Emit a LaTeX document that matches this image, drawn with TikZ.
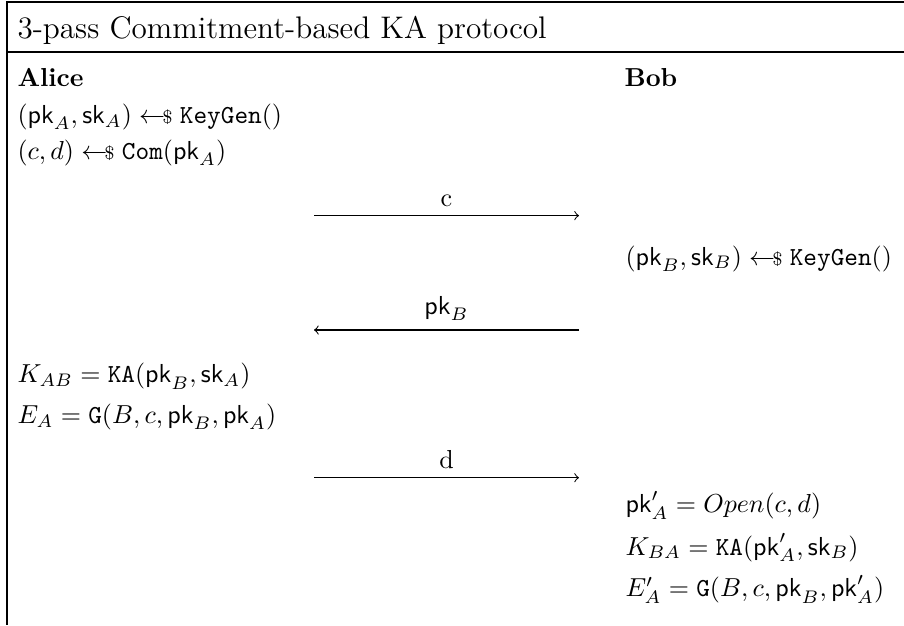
\documentclass[tikz,border=0pt]{standalone}
\usetikzlibrary{positioning}

\newcommand{\sampled}{\mathrel{\leftarrow\mkern-7mu\mbox{\scriptsize\$}}}

\begin{document}
\begin{tikzpicture}[x=0.3846pt,y=-0.3846pt,
  txt/.style={anchor=base west,inner sep=0pt},
  msg/.style={->}]
\useasboundingbox (0,0) rectangle (904,625);
% frame and header
\draw (904,2) -- (7,2) -- (7,625);
\draw (7,52) -- (904,52);
\node[txt,font=\large] (title) at (17,38) {3-pass Commitment-based KA protocol};
% parties
\node[txt,font=\bfseries] (alice) at (17,86.7) {Alice};
\node[txt,font=\bfseries] (bob) at (624,86.7) {Bob};
% Alice: keys and commitment
\node[txt] (keya) at (17,123.3) {$(\mathsf{pk}_A,\mathsf{sk}_A)\sampled\mathtt{KeyGen()}$};
\node[txt] (coma) at (17,159) {$(c,d)\sampled\mathtt{Com(}\mathsf{pk}_A\mathtt{)}$};
% Bob: keys
\node[txt] (keyb) at (625,265) {$(\mathsf{pk}_B,\mathsf{sk}_B)\sampled\mathtt{KeyGen()}$};
% Alice: shared key
\node[txt] (kab) at (17,382.7) {$K_{AB}=\mathtt{KA}(\mathsf{pk}_B,\mathsf{sk}_A)$};
\node[txt] (ea) at (17,423.3) {$E_A=\mathtt{G}(B,c,\mathsf{pk}_B,\mathsf{pk}_A)$};
% Bob: open and check
\node[txt] (open) at (625,512.7) {$\mathsf{pk}'_A=Open(c,d)$};
\node[txt] (kba) at (625,555) {$K_{BA}=\mathtt{KA}(\mathsf{pk}'_A,\mathsf{sk}_B)$};
\node[txt] (eb) at (625,596.7) {$E'_A=\mathtt{G}(B,c,\mathsf{pk}_B,\mathsf{pk}'_A)$};
% messages
\foreach \n/\y in {1/215.6,2/330,3/477.7}{
  \coordinate (l\n) at (314,\y);
  \coordinate (r\n) at (579,\y);
}
\draw[msg] (l1) -- node[above] (msgc) {c} (r1);
\draw[msg] (r2) -- node[above] (msgpk) {$\mathsf{pk}_B$} (l2);
\draw[msg] (l3) -- node[above] (msgd) {d} (r3);
\end{tikzpicture}
\end{document}
